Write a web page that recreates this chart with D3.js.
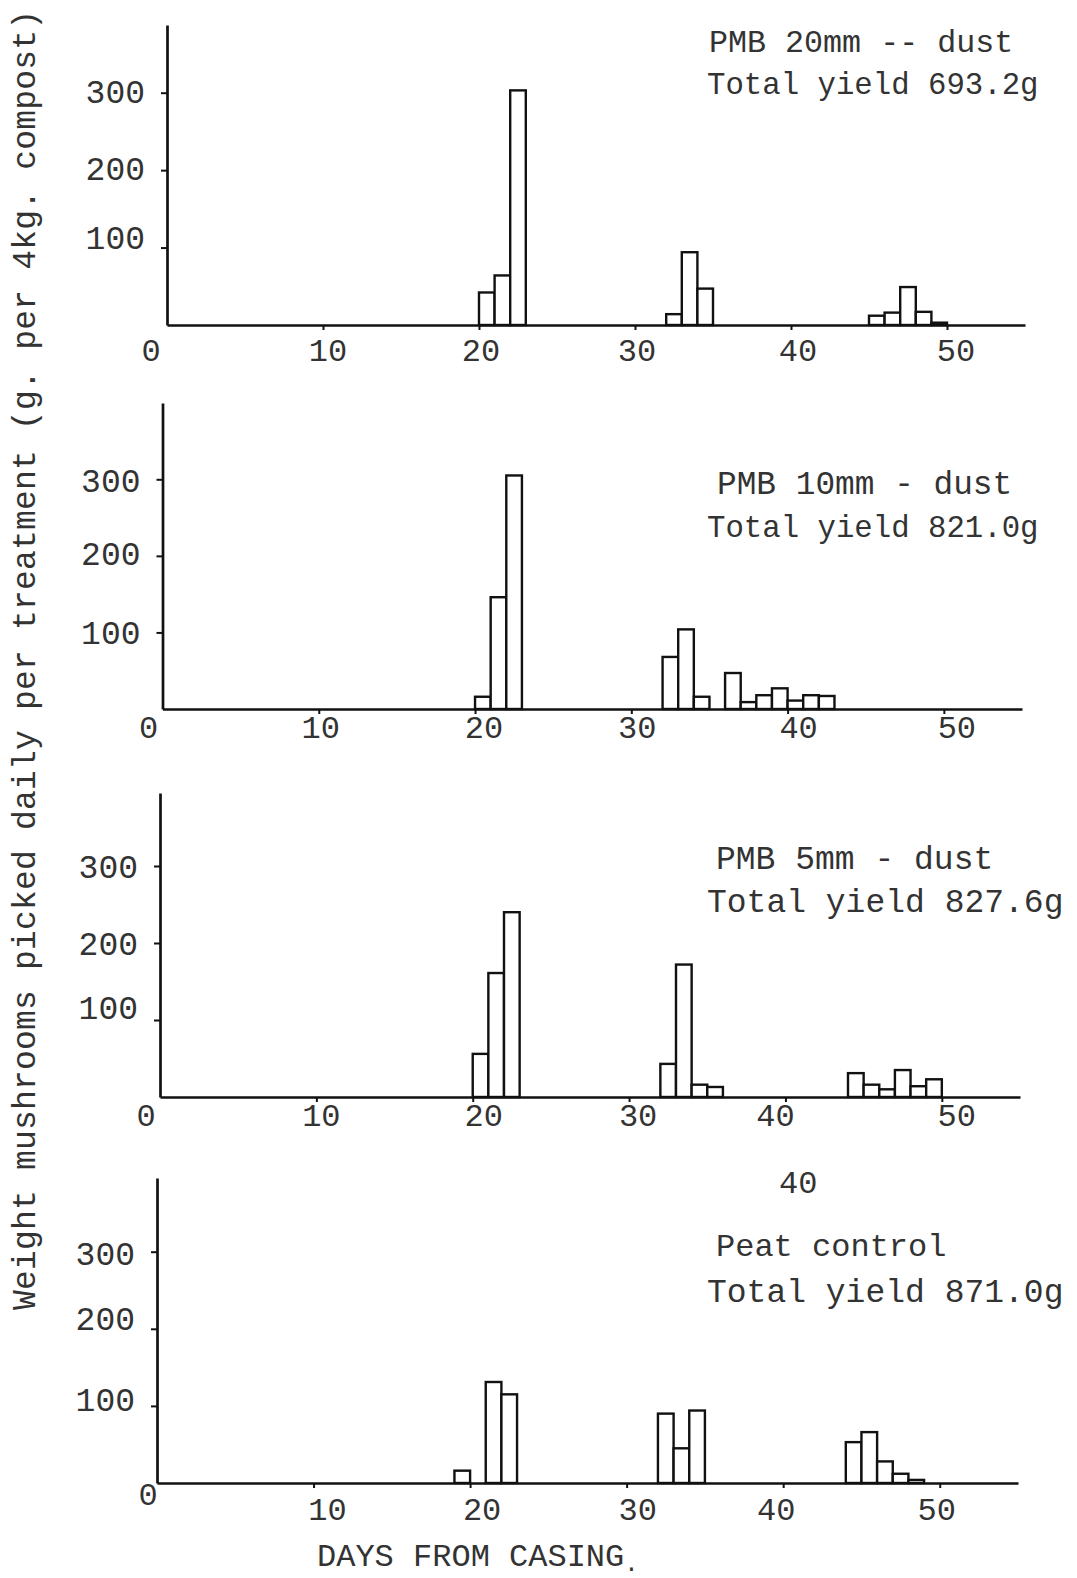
<!DOCTYPE html>
<html>
<head>
<meta charset="utf-8">
<script src="https://cdn.jsdelivr.net/npm/d3@7"></script>
<style>
  html, body { margin: 0; padding: 0; background: #fff; }
  svg { display: block; }
  text { font-family: "Liberation Mono", "DejaVu Sans Mono", monospace; fill: #333; }
</style>
</head>
<body>
<svg id="chart" width="1077" height="1578"></svg>
<script>
// Daily mushroom picks (g per 4 kg compost) by day from casing, one pair of arrays per casing treatment.
const pmb20Days  = [20, 21, 22, 32, 33, 34, 45, 46, 47, 48, 49];
const pmb20Yield = [42, 64, 303, 14, 94, 47, 12, 16, 49, 17, 3];

const pmb10Days  = [20, 21, 22, 32, 33, 34, 36, 37, 38, 39, 40, 41, 42];
const pmb10Yield = [16, 146, 305, 68, 104, 16, 47, 9, 18, 27, 11, 18, 17];

const pmb5Days   = [20, 21, 22, 32, 33, 34, 35, 44, 45, 46, 47, 48, 49];
const pmb5Yield  = [56, 161, 240, 43, 172, 16, 13, 31, 16, 10, 35, 14, 23];

const peatDays   = [19, 21, 22, 32, 33, 34, 44, 45, 46, 47, 48];
const peatYield  = [16, 131, 115, 90, 45, 94, 53, 66, 28, 12, 4];

const treatmentNames = ["PMB 20mm -- dust", "PMB 10mm - dust", "PMB 5mm - dust", "Peat control"];
const totalYields    = ["Total yield 693.2g", "Total yield 821.0g", "Total yield 827.6g", "Total yield 871.0g"];

const dayTicks   = [0, 10, 20, 30, 40, 50];
const yieldTicks = [100, 200, 300];

const yTitle = "Weight mushrooms picked daily per treatment (g. per 4kg. compost)";
const xTitle = "DAYS FROM CASING";

const svg = d3.select("#chart");

// Each panel was typed and ruled by hand, so each gets its own frame;
// the typed tick figures sit a little off their tick marks (xShift / yShift).
const panels = [
  { days: pmb20Days, values: pmb20Yield, x0: 167,   x55: 1025, base: 325,  y300: 92.7,  top: 25,
    labY: 361, xShift: [-16, 5, 2, 2, 7, 9], xDrop: [0, 0, 0, 0, 0, 0], yShift: [-10, -2, -2],
    nameX: 709, nameY: 52, nameSize: 31.7, totalX: 707, totalY: 94, totalSize: 30.7 },
  { days: pmb10Days, values: pmb10Yield, x0: 162.5, x55: 1022, base: 709,  y300: 479.3, top: 403,
    labY: 738, xShift: [-14, 2, 9, 6, 11, 13], xDrop: [0, 0, 0, 0, 0, 0], yShift: [0, -3, 1],
    nameX: 717, nameY: 494, nameSize: 32.8, totalX: 707, totalY: 537, totalSize: 30.7 },
  { days: pmb5Days,  values: pmb5Yield,  x0: 160,   x55: 1020, base: 1097, y300: 866,   top: 793,
    labY: 1126, xShift: [-14, 5, 11, 9, -10, 15], xDrop: [0, 0, 0, 0, 0, 0], yShift: [-13, 0, 0],
    nameX: 716, nameY: 869, nameSize: 33, totalX: 707, totalY: 912, totalSize: 33 },
  { days: peatDays,  values: peatYield,  x0: 157,   x55: 1018, base: 1483, y300: 1251.7, top: 1178,
    labY: 1520, xShift: [-9, 14, 12, 11, -7, -3], xDrop: [-15, 0, 0, 0, 0, 0], yShift: [-7, -11, 1],
    nameX: 716, nameY: 1256, nameSize: 32, totalX: 707, totalY: 1302, totalSize: 33 }
];

panels.forEach((p, i) => {
  const x = d3.scaleLinear().domain([0, 55]).range([p.x0, p.x55]);
  const y = d3.scaleLinear().domain([0, 300]).range([p.base, p.y300]);
  const yTop = y.invert(p.top);

  const g = svg.append("g");

  // bars: one open box per picking day
  g.selectAll("rect.bar")
    .data(p.days.map((d, k) => ({ day: d, v: p.values[k] })))
    .join("rect")
    .attr("class", "bar")
    .attr("x", d => x(d.day))
    .attr("width", d => x(d.day + 1) - x(d.day))
    .attr("y", d => y(d.v))
    .attr("height", d => y(0) - y(d.v))
    .attr("fill", "#fff")
    .attr("stroke", "#111")
    .attr("stroke-width", 2.4);

  // x axis
  const xAxis = d3.axisBottom(x).tickValues(dayTicks).tickSize(5).tickSizeOuter(0).tickFormat("");
  const xa = g.append("g").attr("transform", `translate(0,${p.base})`).call(xAxis);
  xa.select(".domain").attr("stroke", "#111").attr("stroke-width", 2.5);
  xa.selectAll(".tick line").attr("stroke", "#111").attr("stroke-width", 2);
  xa.selectAll(".tick").filter(d => d === 0).remove();

  g.selectAll("text.xlab")
    .data(dayTicks)
    .join("text")
    .attr("class", "xlab")
    .attr("x", (d, k) => x(d) + p.xShift[k])
    .attr("y", (d, k) => p.labY + p.xDrop[k])
    .attr("text-anchor", "middle")
    .attr("font-size", 32)
    .text(d => d);

  // y axis
  const ya = g.append("g").attr("transform", `translate(${p.x0},0)`)
    .call(d3.axisLeft(d3.scaleLinear().domain([0, yTop]).range([p.base, p.top]))
      .tickValues(yieldTicks).tickSize(6).tickSizeOuter(0).tickFormat(""));
  ya.select(".domain").attr("stroke", "#111").attr("stroke-width", 2.7);
  ya.selectAll(".tick line").attr("stroke", "#111").attr("stroke-width", 2);

  g.selectAll("text.ylab")
    .data(yieldTicks)
    .join("text")
    .attr("class", "ylab")
    .attr("x", p.x0 - 22)
    .attr("y", (d, k) => y(d) + p.yShift[k])
    .attr("dy", "0.36em")
    .attr("text-anchor", "end")
    .attr("font-size", 33)
    .text(d => d);

  // treatment label and total
  g.append("text").attr("x", p.nameX).attr("y", p.nameY).attr("font-size", p.nameSize).text(treatmentNames[i]);
  g.append("text").attr("x", p.totalX).attr("y", p.totalY).attr("font-size", p.totalSize).text(totalYields[i]);
});

// stray typed figure above the control panel
svg.append("text").attr("x", 779).attr("y", 1193).attr("font-size", 32).text("40");

// shared axis titles
svg.append("text")
  .attr("transform", "translate(35,660) rotate(-90)")
  .attr("text-anchor", "middle")
  .attr("font-size", 33)
  .attr("textLength", 1300)
  .attr("lengthAdjust", "spacing")
  .text(yTitle);

const xt = svg.append("text")
  .attr("x", 317)
  .attr("y", 1566)
  .attr("font-size", 32)
  .text(xTitle);
xt.append("tspan").attr("dy", 5).attr("font-size", 24).text(".");
</script>
</body>
</html>
